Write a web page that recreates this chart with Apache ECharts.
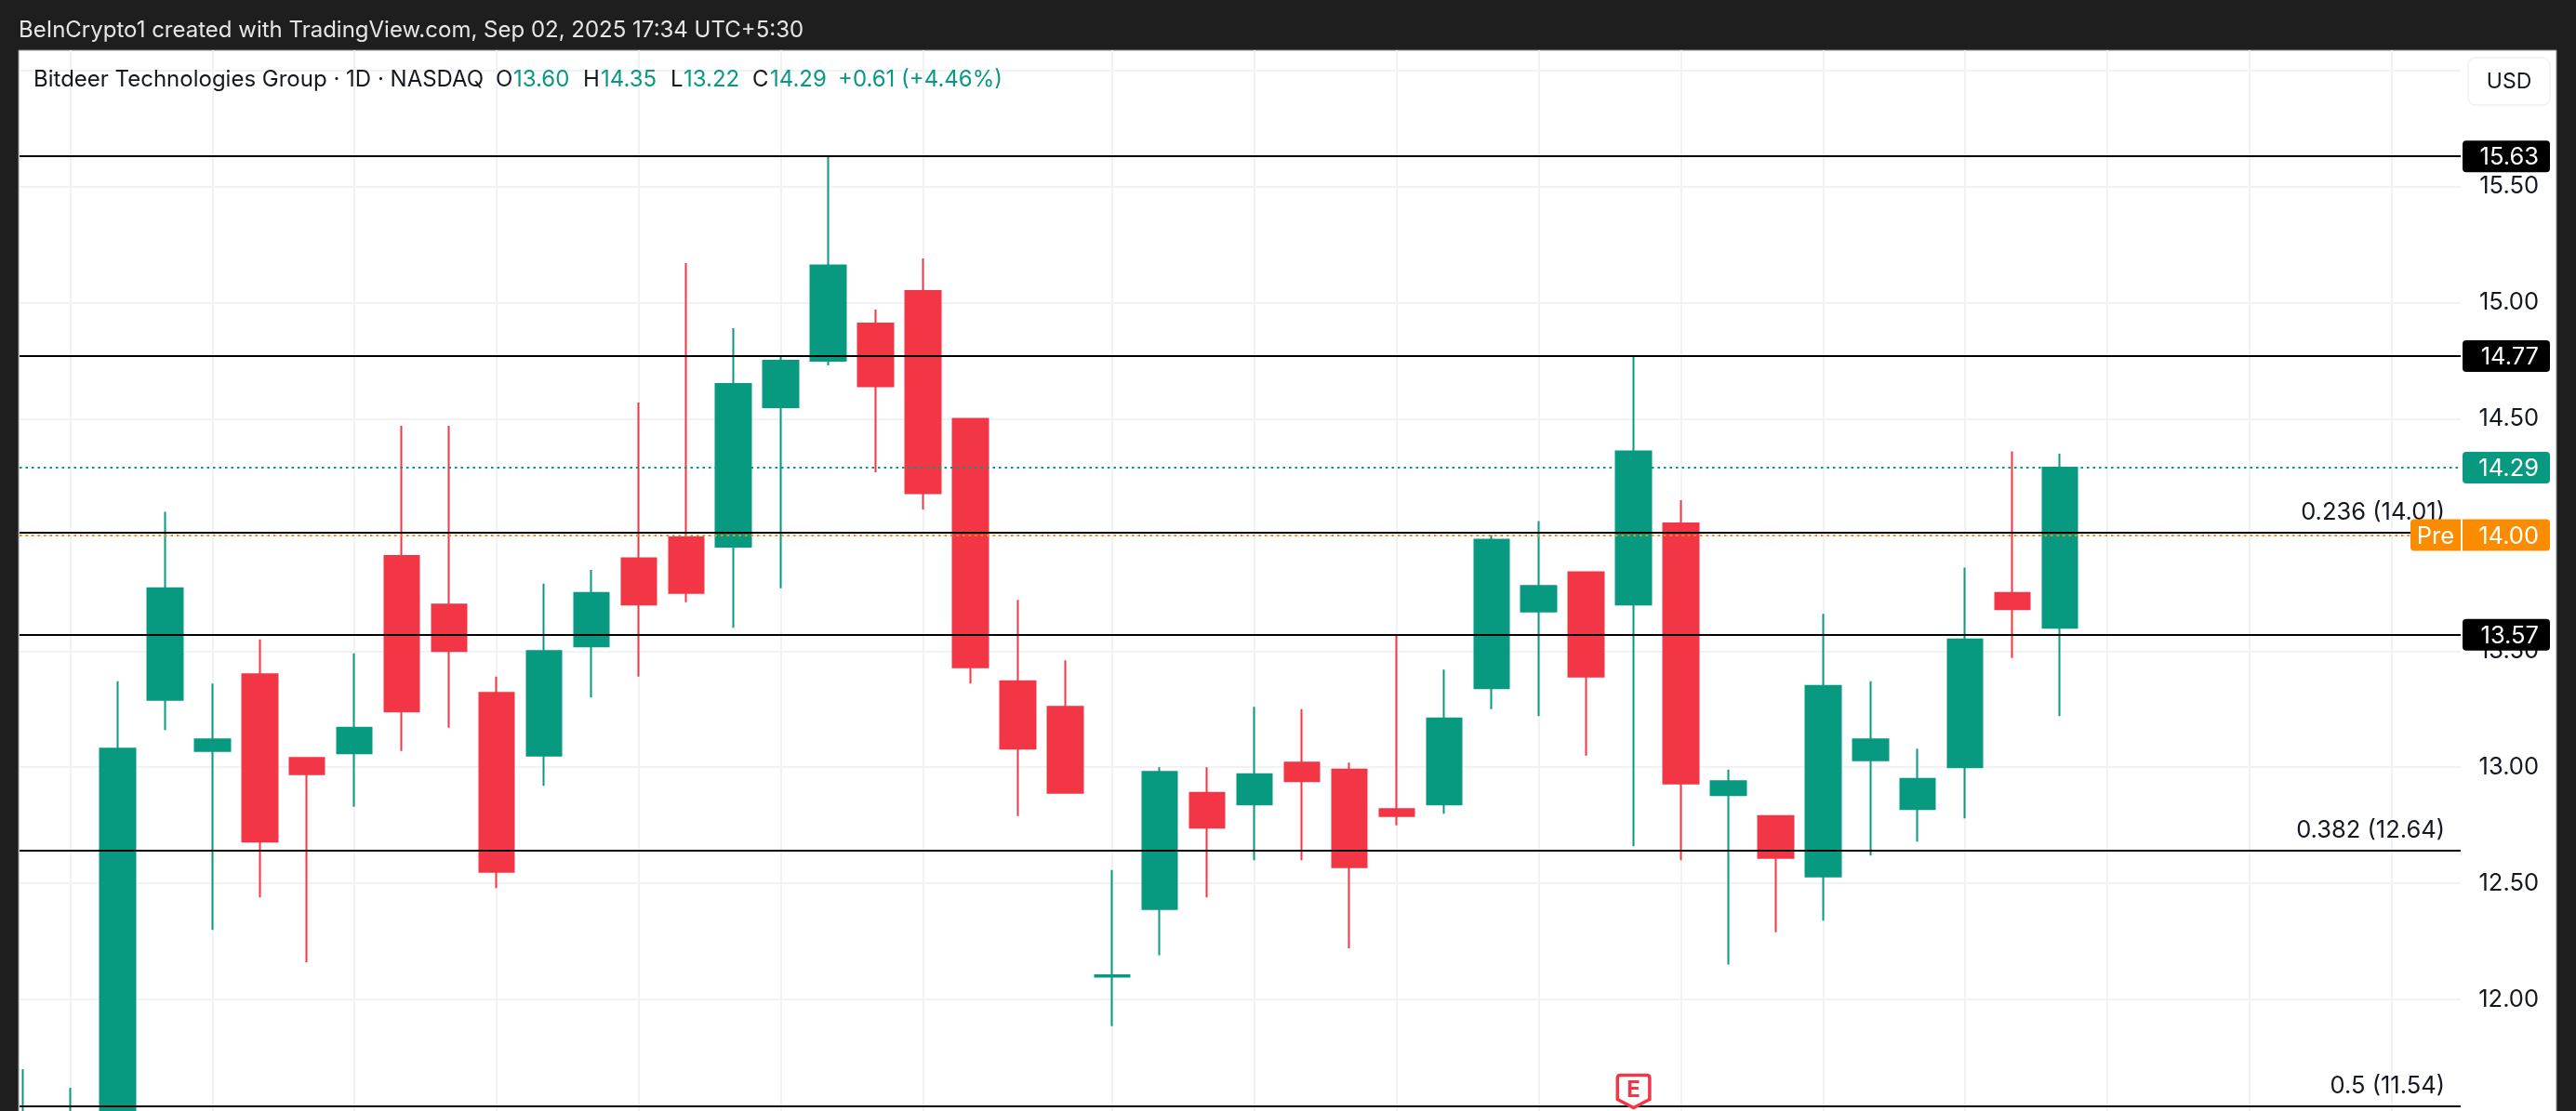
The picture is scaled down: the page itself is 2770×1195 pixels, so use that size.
<!DOCTYPE html>
<html>
<head>
<meta charset="utf-8">
<title>Bitdeer Technologies Group daily chart</title>
<script src="https://cdn.jsdelivr.net/npm/echarts@6/dist/echarts.min.js"></script>
<style>
  html, body { margin: 0; padding: 0; background: #1e1e1e; }
  #chart { width: 2770px; height: 1195px; }
</style>
</head>
<body>
<div id="chart"></div>
<script>
// Daily candles, oldest first. The first two sessions open and close below the visible range.
const opens  = [11.10, 11.20, 11.30, 13.29, 13.07, 13.40, 13.04, 13.06, 13.91, 13.70, 13.32, 13.05, 13.52, 13.90, 13.99, 13.95, 14.55, 14.75, 14.91, 15.05, 14.50, 13.37, 13.26, 12.098, 12.39, 12.89, 12.84, 13.02, 12.99, 12.82, 12.84, 13.34, 13.67, 13.84, 13.70, 14.05, 12.88, 12.79, 12.53, 13.03, 12.82, 13.00, 13.75, 13.60];
const closes = [11.30, 11.40, 13.08, 13.77, 13.12, 12.68, 12.97, 13.17, 13.24, 13.50, 12.55, 13.50, 13.75, 13.70, 13.75, 14.65, 14.75, 15.16, 14.64, 14.18, 13.43, 13.08, 12.89, 12.104, 12.98, 12.74, 12.97, 12.94, 12.57, 12.79, 13.21, 13.98, 13.78, 13.39, 14.36, 12.93, 12.94, 12.61, 13.35, 13.12, 12.95, 13.55, 13.68, 14.29];
const lows   = [11.00, 11.10, 11.20, 13.16, 12.30, 12.44, 12.16, 12.83, 13.07, 13.17, 12.48, 12.92, 13.30, 13.39, 13.71, 13.60, 13.77, 14.73, 14.27, 14.11, 13.36, 12.79, 12.89, 11.885, 12.19, 12.44, 12.60, 12.60, 12.22, 12.75, 12.80, 13.25, 13.22, 13.05, 12.66, 12.60, 12.15, 12.29, 12.34, 12.62, 12.68, 12.78, 13.47, 13.22];
const highs  = [11.70, 11.62, 13.37, 14.10, 13.36, 13.55, 13.04, 13.49, 14.47, 14.47, 13.39, 13.79, 13.85, 14.57, 15.17, 14.89, 14.77, 15.63, 14.97, 15.19, 14.50, 13.72, 13.46, 12.558, 13.00, 13.00, 13.26, 13.25, 13.02, 13.57, 13.42, 14.00, 14.06, 13.84, 14.77, 14.15, 12.99, 12.79, 13.66, 13.37, 13.08, 13.86, 14.36, 14.35];

// Sessions that carry a vertical grid line; the time scale continues past the last candle.
const timeGridSessions = [1, 4, 7, 10, 13, 16, 19, 23, 26, 29, 32, 35, 38, 41, 44, 47, 50];
const earningsSession = 34;

// Price scale.
const priceGridLines = [12, 12.5, 13, 13.5, 14, 14.5, 15, 15.5, 16];
const priceTickLabels = [12, 12.5, 13, 13.5, 14, 14.5, 15, 15.5];

// Drawn levels with a tag on the price scale.
const taggedLevels = [15.63, 14.77, 13.57];
// Fibonacci retracement levels.
const fibRatios = ['0.236', '0.382', '0.5'];
const fibLevels = [14.01, 12.64, 11.54];
// Last traded and pre-market prices.
const lastPrice = 14.29;
const prePrice = 14.00;

// Header and legend texts.
const attribution = 'BeInCrypto1 created with TradingView.com, Sep 02, 2025 17:34 UTC+5:30';
const symbolTitle = 'Bitdeer Technologies Group · 1D · NASDAQ';
const ohlcLetters = ['O', 'H', 'L', 'C'];
const ohlcValues = ['13.60', '14.35', '13.22', '14.29'];
const changeText = '+0.61 (+4.46%)';

const UP = '#089981', DOWN = '#F23645', BLACK = '#000000', ORANGE = '#FB8C00', INK = '#131722';
const FONT = 'Inter, "Noto Sans", sans-serif';
const LEGEND_FONT = '400 24px ' + FONT;
const LABEL_FONT = '400 25.5px ' + FONT;

const candles = opens.map((o, i) => [i, o, closes[i], lows[i], highs[i]]);

function flatLines(values) {
  return values.map(v => ({ yAxis: v }));
}

// Tag on the price scale, centred on its level through the y axis.
function priceTag(value, text, color, bareLeft) {
  return function (params, api) {
    const sys = params.coordSys;
    const y = api.coord([0, value])[1];
    const left = sys.x + sys.width + 2;
    return {
      type: 'group',
      children: [
        { type: 'rect', shape: { x: left, y: y - 17, width: 94, height: 34, r: bareLeft ? [0, 4, 4, 0] : 4 }, style: { fill: color } },
        { type: 'text', style: { x: left + 82, y: y + 1.5, text: text, fill: '#ffffff', font: LABEL_FONT, align: 'right', verticalAlign: 'middle' } }
      ]
    };
  };
}

function tagSeries(value, text, color, bareLeft) {
  return {
    type: 'custom', coordinateSystem: 'cartesian2d', silent: true, z: 7, clip: false,
    data: [[0, value]], encode: { x: 0, y: 1 },
    renderItem: priceTag(value, text, color, bareLeft)
  };
}

function legendText(x, text, fill) {
  return { type: 'text', z: 20, silent: true, style: { x: x, y: 86, text: text, fill: fill, font: LEGEND_FONT, verticalAlign: 'middle' } };
}

const option = {
  animation: false,
  backgroundColor: '#1e1e1e',
  grid: { left: 21, top: 54, width: 2625, height: 1141, containLabel: false },
  xAxis: {
    type: 'value',
    min: -0.0707,
    max: 51.46,
    axisLine: { show: false },
    axisLabel: { show: false },
    axisTick: { show: false, customValues: timeGridSessions },
    splitLine: { show: true, lineStyle: { color: '#F1F2F4', width: 2 } }
  },
  yAxis: {
    type: 'value',
    position: 'right',
    min: 11.52,
    max: 16.087,
    axisLine: { show: false },
    axisTick: { show: false, customValues: priceGridLines },
    axisLabel: {
      customValues: priceTickLabels,
      align: 'right',
      margin: 84,
      padding: [3, 0, 0, 0],
      color: INK,
      fontFamily: FONT,
      fontSize: 25.5,
      formatter: v => v.toFixed(2)
    },
    splitLine: { show: true, lineStyle: { color: '#F1F2F4', width: 2 } }
  },
  series: [
    {
      // Solid levels sit behind the candles.
      type: 'line', data: [], z: 1, silent: true,
      markLine: {
        silent: true, symbol: 'none', animation: false, label: { show: false },
        lineStyle: { color: BLACK, width: 2, type: 'solid' },
        data: flatLines(taggedLevels.concat(fibLevels))
      }
    },
    {
      type: 'candlestick',
      z: 3,
      barWidth: 38,
      encode: { x: 0, y: [1, 2, 3, 4] },
      itemStyle: { color: UP, color0: DOWN, borderColor: UP, borderColor0: DOWN, borderWidth: 2 },
      data: candles
    },
    {
      // Price lines run over the candles.
      type: 'line', data: [], z: 4, silent: true,
      markLine: {
        silent: true, symbol: 'none', animation: false, label: { show: false },
        data: [
          { yAxis: lastPrice, lineStyle: { color: UP, width: 2, type: [2.5, 4] } },
          { yAxis: prePrice, lineStyle: { color: ORANGE, width: 2, type: [2.5, 4] } }
        ]
      }
    },
    {
      // Fibonacci captions, right aligned above their lines.
      type: 'custom', coordinateSystem: 'cartesian2d', silent: true, z: 5, clip: false,
      data: fibLevels.map(v => [0, v]), encode: { x: 0, y: 1 },
      renderItem(params, api) {
        const sys = params.coordSys;
        const y = api.coord([0, api.value(1)])[1];
        return {
          type: 'text',
          style: {
            x: sys.x + sys.width - 17, y: y - 22,
            text: fibRatios[params.dataIndex] + ' (' + fibLevels[params.dataIndex].toFixed(2) + ')',
            fill: INK, font: LABEL_FONT, align: 'right', verticalAlign: 'middle'
          }
        };
      }
    },
    {
      // Earnings flag, hung from its session on the time scale.
      type: 'custom', coordinateSystem: 'cartesian2d', silent: true, z: 6, clip: false,
      data: [[earningsSession, 11.6]], encode: { x: 0, y: 1 },
      renderItem(params, api) {
        const sys = params.coordSys;
        const x = api.coord([api.value(0), 12])[0];
        const b = sys.y + sys.height - 3.5;
        return {
          type: 'group',
          children: [
            {
              type: 'path',
              x: x, y: b,
              shape: { pathData: 'M-14.5,-35 L14.5,-35 Q17.3,-35 17.3,-32 L17.3,-9 L0,0 L-17.3,-9 L-17.3,-32 Q-17.3,-35 -14.5,-35 Z' },
              style: { fill: '#ffffff', stroke: DOWN, lineWidth: 3.5 }
            },
            { type: 'text', style: { x: x, y: b - 18.5, text: 'E', fill: DOWN, font: '700 24px ' + FONT, align: 'center', verticalAlign: 'middle' } }
          ]
        };
      }
    },
    tagSeries(taggedLevels[0], taggedLevels[0].toFixed(2), BLACK, false),
    tagSeries(taggedLevels[1], taggedLevels[1].toFixed(2), BLACK, false),
    tagSeries(taggedLevels[2], taggedLevels[2].toFixed(2), BLACK, false),
    tagSeries(lastPrice, lastPrice.toFixed(2), UP, false),
    tagSeries(prePrice, prePrice.toFixed(2), ORANGE, true),
    {
      // "Pre" flag attached to the pre-market price.
      type: 'custom', coordinateSystem: 'cartesian2d', silent: true, z: 7, clip: false,
      data: [[0, prePrice]], encode: { x: 0, y: 1 },
      renderItem(params, api) {
        const sys = params.coordSys;
        const y = api.coord([0, api.value(1)])[1];
        const right = sys.x + sys.width;
        return {
          type: 'group',
          children: [
            { type: 'rect', shape: { x: right - 54, y: y - 17, width: 54, height: 34, r: [4, 0, 0, 4] }, style: { fill: ORANGE } },
            { type: 'text', style: { x: right - 27, y: y + 1.5, text: 'Pre', fill: '#ffffff', font: LABEL_FONT, align: 'center', verticalAlign: 'middle' } }
          ]
        };
      }
    }
  ],
  graphic: {
    elements: [
      // White panel inside the dark frame.
      { type: 'rect', z: -10, silent: true, shape: { x: 20, y: 54, width: 2729, height: 1150 }, style: { fill: '#ffffff', stroke: '#8c8c8c', lineWidth: 1 } },
      { type: 'text', z: 20, silent: true, style: { x: 20, y: 33, text: attribution, fill: '#E6E6E6', font: LEGEND_FONT, verticalAlign: 'middle' } },
      legendText(36, symbolTitle, INK),
      legendText(533, ohlcLetters[0], INK),
      legendText(552, ohlcValues[0], UP),
      legendText(627, ohlcLetters[1], INK),
      legendText(646, ohlcValues[1], UP),
      legendText(721, ohlcLetters[2], INK),
      legendText(735, ohlcValues[2], UP),
      legendText(809, ohlcLetters[3], INK),
      legendText(828, ohlcValues[3], UP),
      legendText(901, changeText, UP),
      // Currency button over the top of the price scale.
      { type: 'rect', z: 20, silent: true, shape: { x: 2654, y: 62, width: 88, height: 51, r: 8 }, style: { fill: '#ffffff', stroke: '#F0F1F4', lineWidth: 1.5 } },
      { type: 'text', z: 21, silent: true, style: { x: 2698, y: 88, text: 'USD', fill: INK, font: '400 23px ' + FONT, align: 'center', verticalAlign: 'middle' } }
    ]
  }
};

const chart = echarts.init(document.getElementById('chart'), null, { renderer: 'canvas', width: 2770, height: 1195 });
chart.setOption(option);
</script>
</body>
</html>
